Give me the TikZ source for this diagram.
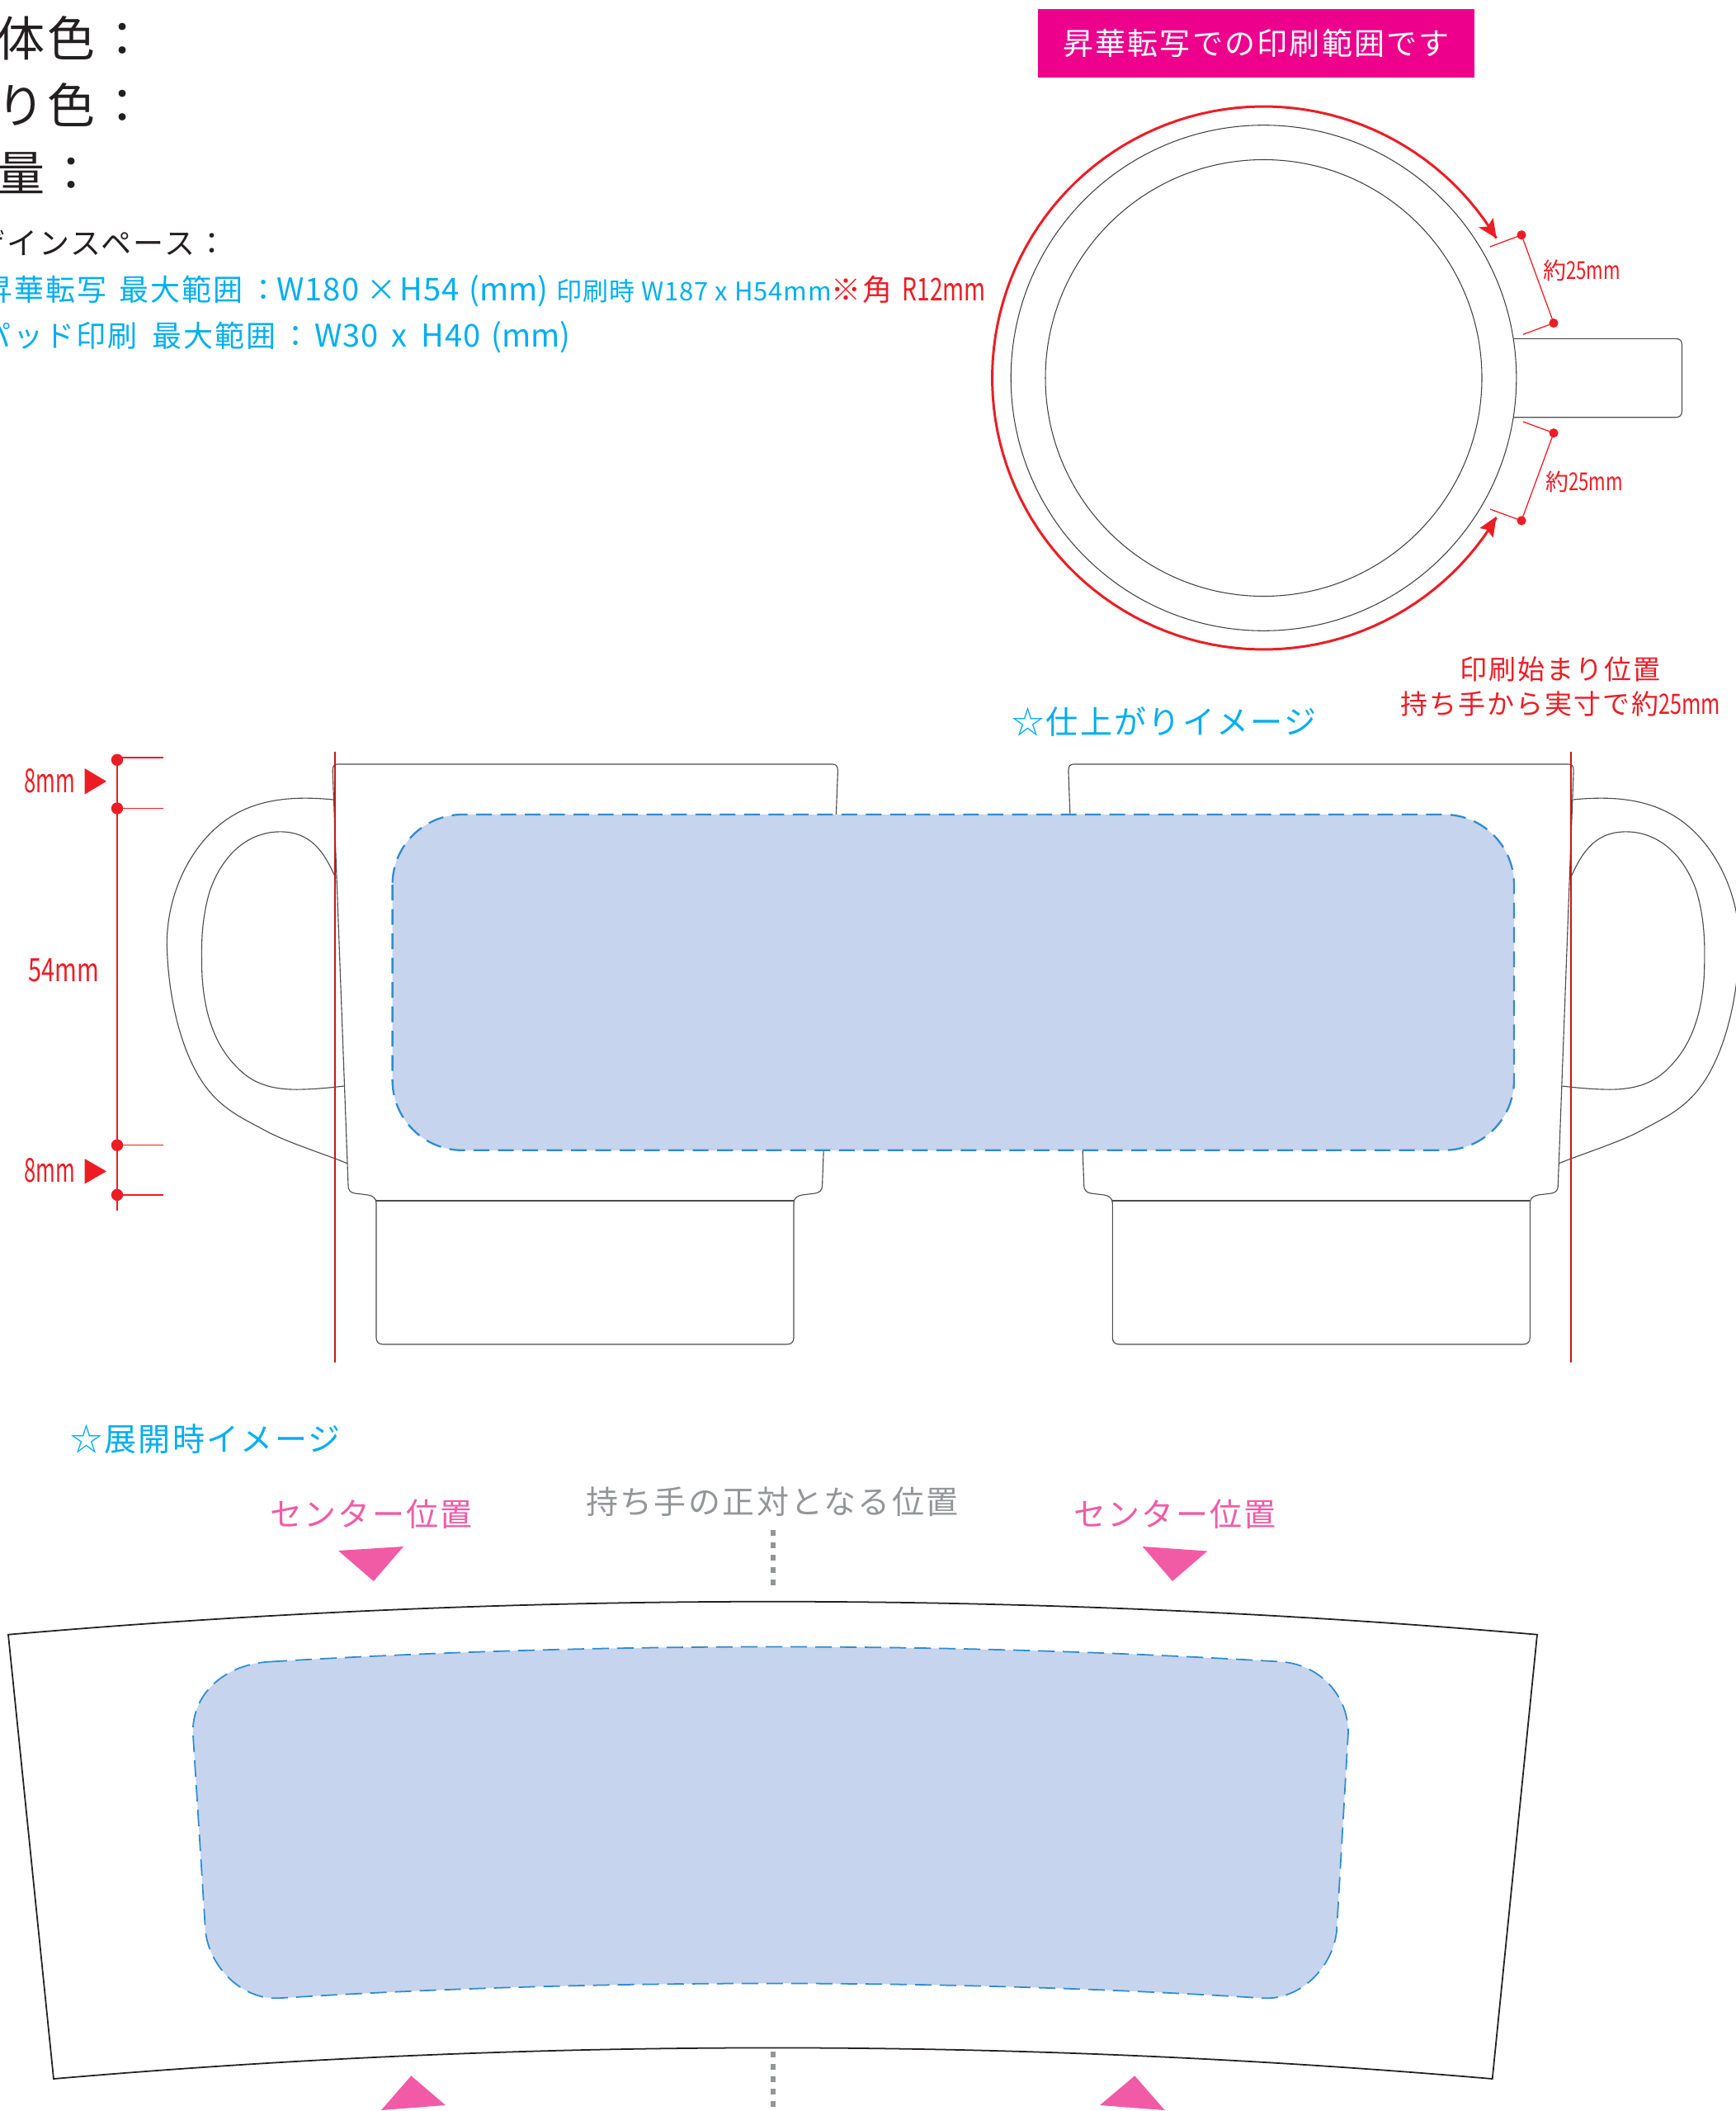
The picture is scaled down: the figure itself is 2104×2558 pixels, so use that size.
\documentclass[tikz,border=0pt]{standalone}
\usepackage{fontspec}
\newfontfamily\cjk{Noto Sans CJK JP}
\newfontfamily\cjkM[LetterSpace=6]{Noto Sans CJK JP}
\newfontfamily\cjkS[LetterSpace=3]{Noto Sans CJK JP}
\newfontfamily\cjkN[FakeStretch=0.74]{Noto Sans CJK JP}
\newfontfamily\cjkT[FakeStretch=0.64]{Noto Sans CJK JP}
\newcommand\fpx[1]{\fontsize{\fpeval{#1*0.28453}pt}{\fpeval{#1*0.3}pt}\selectfont}
\newcommand\cell[2]{\makebox[\fpeval{#1*0.01}cm][l]{#2}}
\definecolor{redm}{HTML}{ED1C24}
\definecolor{cyanm}{HTML}{00AEEF}
\definecolor{magm}{HTML}{EC008C}
\definecolor{pinkm}{HTML}{F15BA6}
\definecolor{graym}{HTML}{939598}
\definecolor{bluefill}{HTML}{C6D4EE}
\definecolor{bluedash}{HTML}{2F8CCF}
\definecolor{ink}{HTML}{231F20}
\tikzset{
 tx/.style={inner sep=0pt,outer sep=0pt,anchor=base},
 txw/.style={inner sep=0pt,outer sep=0pt,anchor=base west},
 thin gray line/.style={draw=black!70,line width=0.32pt},
 redline/.style={draw=redm,line width=0.36pt},
 dimdot/.style={fill=redm},
 printarea/.style={fill=bluefill,draw=bluedash,dash pattern=on 0.19cm off 0.105cm},
}
\newcommand\mugshape{%
 \draw[thin gray line] (403.2,934) .. controls (403.2,928) and (405,926) .. (409,926) -- (1009,926)
  .. controls (1013,926) and (1015.4,928) .. (1015.4,934) -- (996.6,1436)
  .. controls (996.4,1443) and (993,1445) .. (988,1446) -- (972,1448)
  .. controls (966,1449) and (962,1452) .. (962,1458) -- (962,1621)
  .. controls (962,1626) and (959,1629) .. (954,1629) -- (464,1629)
  .. controls (459,1629) and (456,1626) .. (456,1621) -- (456,1458)
  .. controls (456,1452) and (452,1449) .. (446,1448) -- (430,1446)
  .. controls (425,1445) and (422,1443) .. (422,1436) -- cycle;
 \draw[thin gray line] (456,1455) -- (962,1455);
 \draw[thin gray line] (404,969) .. controls (345,963) and (298,971) .. (262,1003)
  .. controls (225,1036) and (202,1090) .. (202.3,1145)
  .. controls (204,1215) and (222,1282) .. (251,1319)
  .. controls (272,1346) and (296,1356) .. (321.5,1370)
  .. controls (347,1384) and (395,1399) .. (420.6,1409.6);
 \draw[thin gray line] (407.2,1064.7) .. controls (392,1030) and (375,1006) .. (335,1008)
  .. controls (300,1010) and (270,1035) .. (254.5,1079)
  .. controls (245,1110) and (244,1140) .. (244.5,1165)
  .. controls (244.5,1220) and (258,1263) .. (285,1291)
  .. controls (300,1307) and (320,1322) .. (368,1320)
  .. controls (385,1319.5) and (400,1318) .. (417.3,1316);
}
\begin{document}
\begin{tikzpicture}[x=0.01cm,y=-0.01cm]
\useasboundingbox (0,0) rectangle (2104,2558);

% header texts
\node[txw,text=ink] (t1) at (-4,69) {\fpx{58}\cjkM 体色：};
\node[txw,text=ink] (t2) at (-4,150) {\fpx{58}\cjkM り色：};
\node[txw,text=ink] (t3) at (-4,232) {\fpx{58}\cjkM 量：};
\node[txw,text=ink] (t4) at (-31,309) {\fpx{37}\cjkM ザインスペース：};
\node[txw,text=cyanm] (t5) at (-21,365) {\fpx{36}\cjkM%
 \cell{165}{昇華転写}\cell{157}{最大範囲}\cell{34}{：}\cell{109}{\cjkS\fpx{38}W180}\cell{40}{×}\cell{84}{\cjkS\fpx{38}H54}\cell{106}{\cjk\fpx{38}(mm)}\cell{333}{\cjkS\fpx{31}印刷時 W187 x H54mm}\textcolor{redm}{\cell{86}{※角}\cjkN\fpx{38}R12mm}};
\node[txw,text=cyanm] (t6) at (-22,421) {\fpx{36}\cjkM%
 \cell{206}{パッド印刷}\cell{156}{最大範囲}\cell{41}{：}\cell{93}{\cjkS\fpx{38}W30}\cell{36}{\cjk\fpx{38}x}\cell{85}{\cjkS\fpx{38}H40}\cjk\fpx{38}(mm)};

% banner
\node[fill=magm,text=white,inner sep=0pt,minimum width=5.29cm,minimum height=0.83cm] (banner) at (1522.5,52.5) {\fpx{37}\cjkM 昇華転写での印刷範囲です};

% top view
\draw[draw=black!75,line width=0.3pt] (1531.5,458) circle[radius=306.3];
\draw[draw=black!75,line width=0.3pt] (1531.5,458) circle[radius=264.5];
\draw[thin gray line] (1834,410.4) -- (2031,410.4) .. controls (2036,410.4) and (2038.5,413) .. (2038.5,418) -- (2038.5,498) .. controls (2038.5,503) and (2036,505.7) .. (2031,505.7) -- (1834,505.7);
\draw[draw=redm,line width=0.85pt] plot[domain=31:329,samples=120] ({1531.5+329*cos(\x)},{458+329*sin(\x)});
\fill[redm] (1813.7,288.8) -- (1792,275.5) -- (1803,274.4) -- (1809.6,264) -- cycle;
\fill[redm] (1813.7,625.7) -- (1793.3,640) -- (1802,641.8) -- (1809.6,651.5) -- cycle;

\coordinate (p1) at (1844,284.7);
\coordinate (p2) at (1883,391.5);
\coordinate (p3) at (1883,524.7);
\coordinate (p4) at (1844,630.9);
\coordinate (q1) at (1806,299);
\coordinate (q2) at (1845.8,405.3);
\coordinate (q3) at (1845.8,510.9);
\coordinate (q4) at (1806,617);
\draw[redline] (q1) -- (p1) -- (p2) -- (q2);
\draw[redline] (q3) -- (p3) -- (p4) -- (q4);
\foreach \p in {p1,p2,p3,p4} \fill[dimdot] (\p) circle[radius=5.6];

\node[tx,text=redm] (l1) at (1917,339) {\fpx{28}\cjk 約\cjkN\fpx{30}25mm};
\node[tx,text=redm] (l2) at (1920,594) {\fpx{28}\cjk 約\cjkN\fpx{30}25mm};
\node[tx,text=redm] (l3) at (1891,823.5) {\fpx{33}\cjkM 印刷始まり位置};
\node[tx,text=redm] (l4) at (1891,865.5) {\fpx{33}\cjkM 持ち手から実寸で約\cjkN\fpx{34}25mm};
\node[tx,text=cyanm] (l5) at (1411,889) {\fpx{39}\cjkM ☆仕上がりイメージ};

% dimension scale
\coordinate (d1) at (142,920.8);
\coordinate (d2) at (142,979.5);
\coordinate (d3) at (142,1387.7);
\coordinate (d4) at (142,1447.9);
\coordinate (d5) at (142,1466.7);
\coordinate (e1) at (197.6,918);
\coordinate (e2) at (197.6,979.5);
\coordinate (e3) at (197.6,1387.7);
\coordinate (e4) at (197.6,1447.9);
\draw[redline] (d1) -- (d5);
\draw[redline] (d1 |- e1) -- (e1);
\draw[redline] (d2) -- (e2);
\draw[redline] (d3) -- (e3);
\draw[redline] (d4) -- (e4);
\foreach \p in {d1,d2,d3,d4} \fill[dimdot] (\p) circle[radius=7.2];
\fill[redm] (102.5,931) -- (129,946.8) -- (102.5,962.6) -- cycle;
\fill[redm] (102.5,1404) -- (129,1419.3) -- (102.5,1434.6) -- cycle;
\node[tx,text=redm] (m1) at (60.5,960) {\fpx{40}\cjkT 8mm};
\node[tx,text=redm] (m2) at (60.5,1432) {\fpx{40}\cjkT 8mm};
\node[tx,text=redm] (m3) at (77,1189) {\fpx{39}\cjkN 54mm};

% mugs
\mugshape
\begin{scope}[shift={(2310.3,0)},xscale=-1]
\mugshape
\end{scope}
\coordinate (v1) at (406,910.6);
\coordinate (v2) at (406,1651.4);
\coordinate (v3) at (1904,910.6);
\coordinate (v4) at (1904,1651.4);
\draw[draw=red!75!black!90,line width=0.38pt] (v1) -- (v2);
\draw[draw=red!75!black!90,line width=0.38pt] (v3) -- (v4);
\draw[printarea,line width=0.65pt,rounded corners=0.85cm] (475.6,987) rectangle (1835,1393.8);

% flat pattern
\node[txw,text=cyanm] (f1) at (85,1758) {\fpx{39}\cjkM ☆展開時イメージ};
\node[tx,text=pinkm] (f2) at (450,1849) {\fpx{39}\cjkM センター位置};
\node[tx,text=pinkm] (f3) at (1424,1849) {\fpx{39}\cjkM センター位置};
\node[tx,text=graym] (f4) at (936,1834.5) {\fpx{39}\cjkM 持ち手の正対となる位置};
\fill[pinkm] (410,1879) -- (489,1874) -- (452.8,1916) -- cycle;
\fill[pinkm] (1384.7,1874) -- (1463.3,1879.5) -- (1421,1916) -- cycle;
\fill[pinkm] (498.3,2515.3) -- (462,2557) -- (540,2551) -- cycle;
\fill[pinkm] (1375.3,2515.3) -- (1333,2551) -- (1411.6,2557) -- cycle;
\coordinate (g1) at (937,1854);
\coordinate (g2) at (937,1921.6);
\coordinate (g3) at (937,2486);
\coordinate (g4) at (937,2558);
\draw[graym,line width=1.5pt,dash pattern=on 0.07cm off 0.08cm] (g1) -- (g2);
\draw[graym,line width=1.5pt,dash pattern=on 0.07cm off 0.08cm] (g3) -- (g4);
\draw[ink,line width=0.5pt] (10,1980.7) .. controls (628,1927.4) and (1245,1927.4) .. (1863,1980.7) -- (1808.7,2519) .. controls (1227,2468.9) and (646,2468.9) .. (65,2519) -- cycle;
\draw[fill=bluefill,draw=bluedash,line width=0.5pt,dash pattern=on 0.2cm off 0.1cm] (328,2013.5) .. controls (730,1989.5) and (1148,1989.5) .. (1550.7,2013.5)
 .. controls (1600,2016) and (1634,2055) .. (1634,2099.5) -- (1620,2340)
 .. controls (1615,2385) and (1575,2424) .. (1530.5,2421.2)
 .. controls (1148,2397.5) and (722,2397.5) .. (338.3,2421.2)
 .. controls (295,2424) and (254,2385) .. (249,2340) -- (233.8,2099.5)
 .. controls (233,2050) and (275,2016) .. (328,2013.5) -- cycle;
\end{tikzpicture}
\end{document}
